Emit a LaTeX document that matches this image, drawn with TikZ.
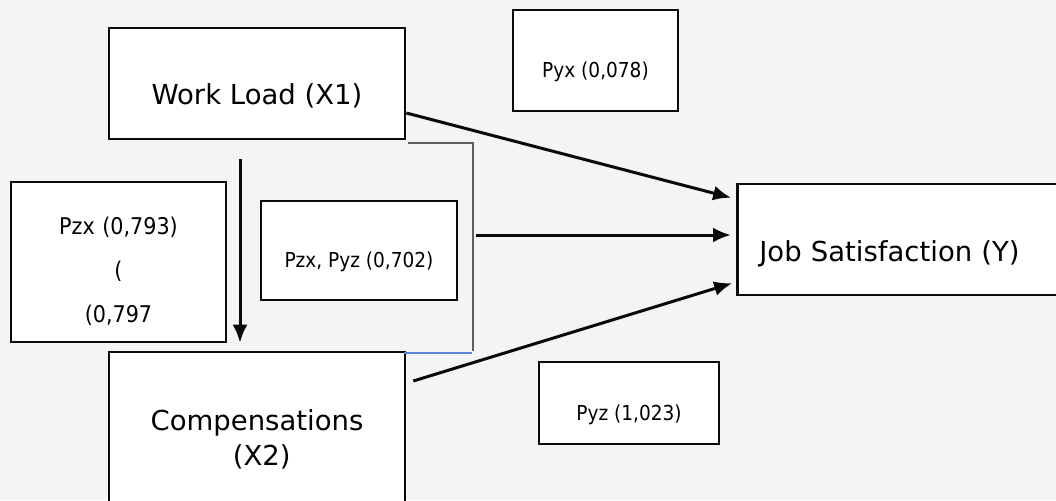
\documentclass[tikz,border=0pt]{standalone}
\usepackage{fontspec}
\setmainfont{DejaVu Sans}
\newfontfamily\narrowfont[FakeStretch=0.9]{DejaVu Sans}
\usepackage{tikz}
\usetikzlibrary{positioning,calc,arrows.meta}
\definecolor{SlideBg}{HTML}{F3F4F6}
\definecolor{BoxLine}{HTML}{0A0A0A}
\definecolor{BracketGray}{HTML}{5E5E5E}
\definecolor{LinkBlue}{HTML}{5B86D6}
\newcommand{\bigtxt}{\fontsize{27.5}{35}\selectfont}
\newcommand{\coeftxt}{\narrowfont\fontsize{20.6}{25}\selectfont}
\newcommand{\pzxtxt}{\narrowfont\fontsize{23}{44}\selectfont}

\begin{document}
\begin{tikzpicture}[x=1pt, y=-1pt,
  varbox/.style={draw=BoxLine, line width=2.6pt, fill=white, inner sep=0pt, font=\bigtxt},
  coefbox/.style={draw=BoxLine, line width=2.6pt, fill=white, inner sep=0pt, font=\coeftxt},
  effect/.style={draw=BoxLine, line width=3pt, -{Latex[length=18pt,width=15pt]}},
  bracketline/.style={draw=BracketGray, line width=1.8pt},
  linkline/.style={draw=LinkBlue, line width=1.8pt}]
  % Background
  \useasboundingbox (0,0) rectangle (1056,500);
  \fill[SlideBg] (0,0) rectangle (1056,500);
  \clip (0,0) rectangle (1056,500);

  % Variables
  \node[varbox, minimum width=296pt, minimum height=111pt, text height=41pt, text depth=0pt] (load) at (257,83.5) {Work Load (X1)};
  \node[varbox, minimum width=296pt, minimum height=178pt, text width=296pt, align=center, text height=0pt, text depth=22pt] (comp) at (257,441) {Compensations\hspace*{0.35em}\\\hspace*{0.35em}(X2)};
  \node[varbox, anchor=west, minimum height=111pt, text width=330pt, inner xsep=22pt, align=left, text height=43pt, text depth=0pt] (sat) at (736,239.5) {Job Satisfaction (Y)};

  % Path coefficients
  \node[coefbox, minimum width=165pt, minimum height=101pt, text height=35pt, text depth=0pt] (pyx) at (595.5,60.5) {Pyx (0,078)};
  \node[coefbox, minimum width=215pt, minimum height=160pt, text width=215pt, align=center, font=\pzxtxt, text height=0pt, text depth=56pt] (pzx) at (118.5,262) {Pzx (0,793)\\(\\(0,797};
  \node[coefbox, minimum width=196pt, minimum height=99pt, text height=33pt, text depth=0pt] (pzxpyz) at (359,250.5) {Pzx, Pyz (0,702)};
  \node[coefbox, minimum width=180pt, minimum height=82pt, text height=34pt, text depth=0pt] (pyz) at (629,403) {Pyz (1,023)};

  % Bracket
  \draw[bracketline] ([shift={(2,3)}]load.south east) -| ([shift={(67,0)}]comp.north east);
  \draw[linkline] ([shift={(-2,2)}]comp.north east) -- ++(68,0);

  % Arrows
  \coordinate (joint) at (476,235);
  \draw[effect, shorten >=5pt] ([yshift=-29.5pt]load.east) -- ([yshift=40.5pt]sat.west);
  \draw[effect, shorten >=5pt] (joint) -- (sat.west |- joint);
  \draw[effect, shorten >=4pt] ([shift={(7,-60)}]comp.east) -- ([yshift=-42.5pt]sat.west);
  \draw[effect] ([shift={(-17,19)}]load.south) -- ([shift={(-17,-8)}]comp.north);
\end{tikzpicture}
\end{document}
